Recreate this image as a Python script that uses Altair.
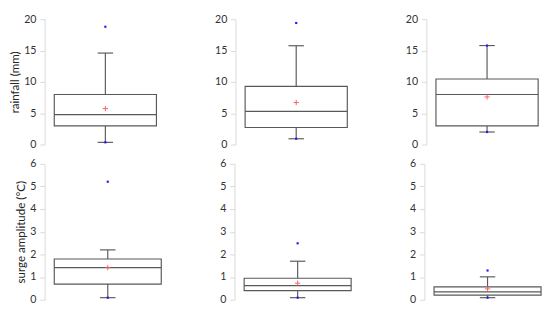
import altair as alt
import pandas as pd

# ---- data ----
sites = ["1", "2", "3"]

rain_min = [0.35, 0.92, 2.0]
rain_q1 = [2.97, 2.72, 2.97]
rain_median = [4.77, 5.30, 7.98]
rain_q3 = [7.98, 9.29, 10.46]
rain_whisker_hi = [14.6, 15.77, 15.8]
rain_mean = [5.74, 6.70, 7.60]
rain_max = [18.8, 19.4, 15.8]

surge_min = [0.09, 0.09, 0.09]
surge_q1 = [0.69, 0.40, 0.20]
surge_median = [1.42, 0.62, 0.35]
surge_q3 = [1.80, 0.95, 0.57]
surge_whisker_hi = [2.20, 1.70, 1.01]
surge_mean = [1.42, 0.73, 0.48]
surge_max = [5.21, 2.49, 1.29]

rain_ticks = [0, 5, 10, 15, 20]
surge_ticks = [0, 1, 2, 3, 4, 5, 6]

BOX = "#595959"
MEAN = "#ff4d4d"
DOT = "#1a1aff"
FONT = "Lato"


def panel(i, mins, q1s, meds, q3s, his, means, maxs, ticks, width, height, title):
    df = pd.DataFrame({
        "site": [sites[i]],
        "lo": [mins[i]], "q1": [q1s[i]], "median": [meds[i]], "q3": [q3s[i]],
        "hi": [his[i]], "mean": [means[i]], "max": [maxs[i]],
    })
    base = alt.Chart(df).properties(width=width, height=height)
    pad = 10.0 / (width - 10.0) / 2
    x = alt.X("site:N", axis=None,
              scale=alt.Scale(paddingInner=0, paddingOuter=pad, align=1))
    yscale = alt.Scale(domain=[ticks[0], ticks[-1]], nice=False, zero=True)
    yaxis = alt.Axis(title=title if title else "", values=ticks, tickCount=len(ticks),
                     grid=False, domainColor="#d9d9d9", tickColor="#d9d9d9",
                     tickSize=5, labelPadding=4, labelFontSize=11, labelColor="#333333",
                     labelOverlap=False, labelFlush=False,
                     titleFontSize=12, titleFontWeight="normal", titleColor="#262626",
                     titlePadding=2)

    def Y(field):
        return alt.Y(field, scale=yscale, axis=yaxis)

    box = base.mark_bar(fill="white", fillOpacity=0, stroke=BOX, strokeWidth=1.2).encode(
        x=x, y=Y("q1:Q"), y2="q3:Q")
    median = base.mark_bar(fill="white", fillOpacity=0, stroke=BOX, strokeWidth=1.2).encode(
        x=x, y=Y("median:Q"), y2="median:Q")
    w_up = base.mark_rule(color=BOX, strokeWidth=1.2).encode(
        x=x, y=Y("q3:Q"), y2="hi:Q")
    w_dn = base.mark_rule(color=BOX, strokeWidth=1.2).encode(
        x=x, y=Y("lo:Q"), y2="q1:Q")
    cap_up = base.mark_tick(orient="horizontal", size=16, thickness=1.2, color=BOX, opacity=1).encode(
        x=x, y=Y("hi:Q"))
    cap_dn = base.mark_tick(orient="horizontal", size=16, thickness=1.2, color=BOX, opacity=1).encode(
        x=x, y=Y("lo:Q"))
    mean = base.mark_point(shape="M-1,0H1M0,-1V1", filled=False, stroke=MEAN, strokeWidth=1,
                           size=30, opacity=0.9).encode(
        x=x, y=Y("mean:Q"))
    dots = base.transform_fold(["lo", "max"], as_=["stat", "v"]).mark_square(
        size=5, color=DOT, opacity=1).encode(x=x, y=Y("v:Q"))
    return alt.layer(box, w_up, w_dn, cap_up, cap_dn, median, mean, dots)


top = alt.hconcat(*[
    panel(i, rain_min, rain_q1, rain_median, rain_q3, rain_whisker_hi, rain_mean, rain_max,
          rain_ticks, 116, 130, "rainfall (mm)" if i == 0 else None)
    for i in range(3)
], spacing=59)

bottom = alt.hconcat(*[
    panel(i, surge_min, surge_q1, surge_median, surge_q3, surge_whisker_hi, surge_mean, surge_max,
          surge_ticks, 121, 141, "surge amplitude (°C)" if i == 0 else None)
    for i in range(3)
], spacing=59)

chart = alt.vconcat(top, bottom, spacing=9).properties(
    padding={"top": 0, "left": 1, "right": 0, "bottom": 0}
).configure(font=FONT, view=alt.ViewConfig(stroke=None))

chart.save("out.html", embed_options={"renderer": "svg", "actions": False})
